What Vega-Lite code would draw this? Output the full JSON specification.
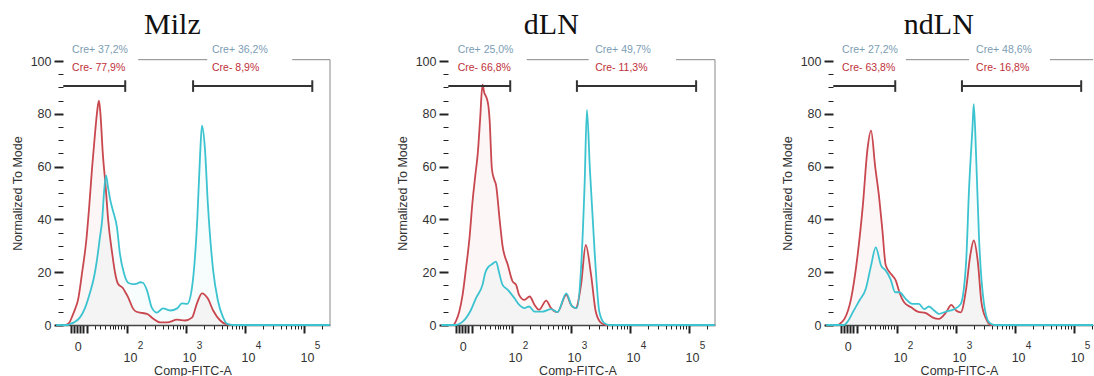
{
  "$schema": "https://vega.github.io/schema/vega-lite/v6.json",
  "background": "white",
  "padding": {"left": 11, "top": 10, "right": 0, "bottom": 0},
  "config": {
    "view": {"stroke": null},
    "axis": {"grid": false, "labelFont": "Liberation Sans", "titleFont": "Liberation Sans", "labelColor": "#333", "titleColor": "#333", "tickColor": "#222", "titleFontWeight": "normal", "labelFontSize": 12.5, "titleFontSize": 12.5}
  },
  "datasets": {
    "c1": [
      {"s": "red", "x": 0.8, "y": 0}, {"s": "red", "x": 0.95, "y": 0}, {"s": "red", "x": 1.02, "y": 0.8}, {"s": "red", "x": 1.07, "y": 3.2}, {"s": "red", "x": 1.12, "y": 6}, {"s": "red", "x": 1.17, "y": 9.5}, {"s": "red", "x": 1.24, "y": 20}, {"s": "red", "x": 1.31, "y": 32}, {"s": "red", "x": 1.36, "y": 45}, {"s": "red", "x": 1.41, "y": 60}, {"s": "red", "x": 1.46, "y": 73}, {"s": "red", "x": 1.5, "y": 82}, {"s": "red", "x": 1.525, "y": 85}, {"s": "red", "x": 1.55, "y": 80}, {"s": "red", "x": 1.59, "y": 65}, {"s": "red", "x": 1.64, "y": 52}, {"s": "red", "x": 1.68, "y": 40}, {"s": "red", "x": 1.75, "y": 27}, {"s": "red", "x": 1.8, "y": 19.5}, {"s": "red", "x": 1.85, "y": 15.5}, {"s": "red", "x": 1.93, "y": 14}, {"s": "red", "x": 1.97, "y": 12.5}, {"s": "red", "x": 2.02, "y": 10.5}, {"s": "red", "x": 2.1, "y": 6.3}, {"s": "red", "x": 2.16, "y": 5}, {"s": "red", "x": 2.22, "y": 4.7}, {"s": "red", "x": 2.34, "y": 4.2}, {"s": "red", "x": 2.44, "y": 2.5}, {"s": "red", "x": 2.56, "y": 1}, {"s": "red", "x": 2.68, "y": 1}, {"s": "red", "x": 2.85, "y": 2}, {"s": "red", "x": 2.98, "y": 1.7}, {"s": "red", "x": 3.1, "y": 2.8}, {"s": "red", "x": 3.19, "y": 8.5}, {"s": "red", "x": 3.27, "y": 12}, {"s": "red", "x": 3.37, "y": 10}, {"s": "red", "x": 3.46, "y": 5.5}, {"s": "red", "x": 3.58, "y": 1.7}, {"s": "red", "x": 3.69, "y": 0.2}, {"s": "red", "x": 3.83, "y": 0}, {"s": "red", "x": 5.44, "y": 0},
      {"s": "cyan", "x": 0.8, "y": 0}, {"s": "cyan", "x": 1.0, "y": 0}, {"s": "cyan", "x": 1.03, "y": 0.3}, {"s": "cyan", "x": 1.1, "y": 1}, {"s": "cyan", "x": 1.2, "y": 2.8}, {"s": "cyan", "x": 1.29, "y": 6.5}, {"s": "cyan", "x": 1.37, "y": 12}, {"s": "cyan", "x": 1.44, "y": 18}, {"s": "cyan", "x": 1.49, "y": 24.5}, {"s": "cyan", "x": 1.54, "y": 33}, {"s": "cyan", "x": 1.58, "y": 40}, {"s": "cyan", "x": 1.61, "y": 50}, {"s": "cyan", "x": 1.644, "y": 56.7}, {"s": "cyan", "x": 1.68, "y": 52}, {"s": "cyan", "x": 1.72, "y": 47}, {"s": "cyan", "x": 1.76, "y": 43.5}, {"s": "cyan", "x": 1.83, "y": 37}, {"s": "cyan", "x": 1.88, "y": 27}, {"s": "cyan", "x": 1.95, "y": 19.5}, {"s": "cyan", "x": 2.02, "y": 16}, {"s": "cyan", "x": 2.1, "y": 15.5}, {"s": "cyan", "x": 2.17, "y": 15.7}, {"s": "cyan", "x": 2.22, "y": 16.2}, {"s": "cyan", "x": 2.27, "y": 16}, {"s": "cyan", "x": 2.34, "y": 13}, {"s": "cyan", "x": 2.42, "y": 6.6}, {"s": "cyan", "x": 2.51, "y": 4.7}, {"s": "cyan", "x": 2.61, "y": 6.3}, {"s": "cyan", "x": 2.73, "y": 5.5}, {"s": "cyan", "x": 2.85, "y": 6.3}, {"s": "cyan", "x": 2.93, "y": 8.2}, {"s": "cyan", "x": 3.02, "y": 8}, {"s": "cyan", "x": 3.1, "y": 14}, {"s": "cyan", "x": 3.19, "y": 39.6}, {"s": "cyan", "x": 3.24, "y": 65}, {"s": "cyan", "x": 3.27, "y": 75.5}, {"s": "cyan", "x": 3.32, "y": 67}, {"s": "cyan", "x": 3.37, "y": 46}, {"s": "cyan", "x": 3.46, "y": 20.7}, {"s": "cyan", "x": 3.54, "y": 9.3}, {"s": "cyan", "x": 3.63, "y": 2.8}, {"s": "cyan", "x": 3.69, "y": 0.5}, {"s": "cyan", "x": 3.8, "y": 0}, {"s": "cyan", "x": 5.44, "y": 0}
    ],
    "c2": [
      {"s": "red", "x": 0.8, "y": 0}, {"s": "red", "x": 1.0, "y": 0}, {"s": "red", "x": 1.05, "y": 1.5}, {"s": "red", "x": 1.107, "y": 5.1}, {"s": "red", "x": 1.16, "y": 11}, {"s": "red", "x": 1.22, "y": 21.4}, {"s": "red", "x": 1.28, "y": 33}, {"s": "red", "x": 1.33, "y": 46.5}, {"s": "red", "x": 1.38, "y": 57}, {"s": "red", "x": 1.42, "y": 65}, {"s": "red", "x": 1.46, "y": 78}, {"s": "red", "x": 1.5, "y": 91}, {"s": "red", "x": 1.53, "y": 88}, {"s": "red", "x": 1.57, "y": 86}, {"s": "red", "x": 1.6, "y": 83}, {"s": "red", "x": 1.62, "y": 78}, {"s": "red", "x": 1.66, "y": 59}, {"s": "red", "x": 1.7, "y": 55}, {"s": "red", "x": 1.73, "y": 53}, {"s": "red", "x": 1.79, "y": 40}, {"s": "red", "x": 1.84, "y": 30}, {"s": "red", "x": 1.93, "y": 22.7}, {"s": "red", "x": 2.01, "y": 16.5}, {"s": "red", "x": 2.07, "y": 15.2}, {"s": "red", "x": 2.12, "y": 11.4}, {"s": "red", "x": 2.21, "y": 9.5}, {"s": "red", "x": 2.3, "y": 10.8}, {"s": "red", "x": 2.38, "y": 7.7}, {"s": "red", "x": 2.46, "y": 5.8}, {"s": "red", "x": 2.58, "y": 9.2}, {"s": "red", "x": 2.66, "y": 6.4}, {"s": "red", "x": 2.77, "y": 4.9}, {"s": "red", "x": 2.92, "y": 11.4}, {"s": "red", "x": 3.0, "y": 7.7}, {"s": "red", "x": 3.08, "y": 6.4}, {"s": "red", "x": 3.17, "y": 15.2}, {"s": "red", "x": 3.25, "y": 30.3}, {"s": "red", "x": 3.34, "y": 19}, {"s": "red", "x": 3.42, "y": 5}, {"s": "red", "x": 3.51, "y": 0.8}, {"s": "red", "x": 3.6, "y": 0}, {"s": "red", "x": 5.44, "y": 0},
      {"s": "cyan", "x": 0.8, "y": 0}, {"s": "cyan", "x": 1.05, "y": 0}, {"s": "cyan", "x": 1.15, "y": 1}, {"s": "cyan", "x": 1.22, "y": 2.6}, {"s": "cyan", "x": 1.3, "y": 5.5}, {"s": "cyan", "x": 1.39, "y": 10.2}, {"s": "cyan", "x": 1.5, "y": 15.2}, {"s": "cyan", "x": 1.55, "y": 20}, {"s": "cyan", "x": 1.6, "y": 22}, {"s": "cyan", "x": 1.66, "y": 23}, {"s": "cyan", "x": 1.73, "y": 24}, {"s": "cyan", "x": 1.78, "y": 20}, {"s": "cyan", "x": 1.84, "y": 15.2}, {"s": "cyan", "x": 1.93, "y": 13.3}, {"s": "cyan", "x": 2.04, "y": 10.2}, {"s": "cyan", "x": 2.12, "y": 7.7}, {"s": "cyan", "x": 2.21, "y": 6.4}, {"s": "cyan", "x": 2.29, "y": 7}, {"s": "cyan", "x": 2.38, "y": 5.1}, {"s": "cyan", "x": 2.52, "y": 5.1}, {"s": "cyan", "x": 2.66, "y": 6}, {"s": "cyan", "x": 2.77, "y": 4.9}, {"s": "cyan", "x": 2.92, "y": 12}, {"s": "cyan", "x": 3.02, "y": 7}, {"s": "cyan", "x": 3.1, "y": 6.4}, {"s": "cyan", "x": 3.17, "y": 21.5}, {"s": "cyan", "x": 3.23, "y": 53}, {"s": "cyan", "x": 3.27, "y": 81.5}, {"s": "cyan", "x": 3.32, "y": 59}, {"s": "cyan", "x": 3.4, "y": 27.8}, {"s": "cyan", "x": 3.48, "y": 5}, {"s": "cyan", "x": 3.56, "y": 0.8}, {"s": "cyan", "x": 3.65, "y": 0}, {"s": "cyan", "x": 5.44, "y": 0}
    ],
    "c3": [
      {"s": "red", "x": 0.8, "y": 0}, {"s": "red", "x": 1.0, "y": 0}, {"s": "red", "x": 1.05, "y": 0.8}, {"s": "red", "x": 1.11, "y": 2.3}, {"s": "red", "x": 1.22, "y": 9.8}, {"s": "red", "x": 1.33, "y": 26}, {"s": "red", "x": 1.42, "y": 45}, {"s": "red", "x": 1.5, "y": 66.7}, {"s": "red", "x": 1.56, "y": 73.6}, {"s": "red", "x": 1.63, "y": 60}, {"s": "red", "x": 1.7, "y": 47.7}, {"s": "red", "x": 1.75, "y": 36.4}, {"s": "red", "x": 1.81, "y": 22.5}, {"s": "red", "x": 1.9, "y": 19.3}, {"s": "red", "x": 1.98, "y": 16.8}, {"s": "red", "x": 2.04, "y": 12.4}, {"s": "red", "x": 2.12, "y": 8.6}, {"s": "red", "x": 2.24, "y": 6.7}, {"s": "red", "x": 2.35, "y": 5.1}, {"s": "red", "x": 2.49, "y": 4.5}, {"s": "red", "x": 2.6, "y": 2.9}, {"s": "red", "x": 2.71, "y": 2.3}, {"s": "red", "x": 2.83, "y": 4.8}, {"s": "red", "x": 2.92, "y": 7.6}, {"s": "red", "x": 3.0, "y": 5.5}, {"s": "red", "x": 3.08, "y": 4.8}, {"s": "red", "x": 3.17, "y": 13.6}, {"s": "red", "x": 3.24, "y": 26.3}, {"s": "red", "x": 3.3, "y": 32}, {"s": "red", "x": 3.37, "y": 23.7}, {"s": "red", "x": 3.43, "y": 8.6}, {"s": "red", "x": 3.51, "y": 2.3}, {"s": "red", "x": 3.59, "y": 0}, {"s": "red", "x": 5.32, "y": 0},
      {"s": "cyan", "x": 0.8, "y": 0}, {"s": "cyan", "x": 1.1, "y": 0}, {"s": "cyan", "x": 1.17, "y": 1.5}, {"s": "cyan", "x": 1.25, "y": 4.8}, {"s": "cyan", "x": 1.36, "y": 9.2}, {"s": "cyan", "x": 1.47, "y": 13.6}, {"s": "cyan", "x": 1.56, "y": 22.5}, {"s": "cyan", "x": 1.64, "y": 29.4}, {"s": "cyan", "x": 1.73, "y": 22.5}, {"s": "cyan", "x": 1.81, "y": 20.6}, {"s": "cyan", "x": 1.89, "y": 17.4}, {"s": "cyan", "x": 1.97, "y": 12.4}, {"s": "cyan", "x": 2.04, "y": 12.4}, {"s": "cyan", "x": 2.15, "y": 9.8}, {"s": "cyan", "x": 2.26, "y": 8}, {"s": "cyan", "x": 2.37, "y": 8}, {"s": "cyan", "x": 2.46, "y": 6}, {"s": "cyan", "x": 2.54, "y": 7}, {"s": "cyan", "x": 2.63, "y": 5.5}, {"s": "cyan", "x": 2.71, "y": 4.2}, {"s": "cyan", "x": 2.83, "y": 5.1}, {"s": "cyan", "x": 2.97, "y": 6}, {"s": "cyan", "x": 3.08, "y": 8}, {"s": "cyan", "x": 3.17, "y": 23.7}, {"s": "cyan", "x": 3.22, "y": 51.5}, {"s": "cyan", "x": 3.28, "y": 75.5}, {"s": "cyan", "x": 3.3, "y": 83.7}, {"s": "cyan", "x": 3.34, "y": 64}, {"s": "cyan", "x": 3.39, "y": 32.6}, {"s": "cyan", "x": 3.47, "y": 8.6}, {"s": "cyan", "x": 3.56, "y": 1}, {"s": "cyan", "x": 3.65, "y": 0}, {"s": "cyan", "x": 5.32, "y": 0}
    ],
    "g1": [{"x": 0.92, "x2": 1.97}, {"x": 3.12, "x2": 5.14}],
    "k1": [{"x": 1.97}, {"x": 3.12}, {"x": 5.14}],
    "t1": [{"x": 1.07, "y": 104, "s": "pos", "t": "Cre+ 37,2%"}, {"x": 1.07, "y": 97.3, "s": "neg", "t": "Cre- 77,9%"}, {"x": 3.44, "y": 104, "s": "pos", "t": "Cre+ 36,2%"}, {"x": 3.44, "y": 97.3, "s": "neg", "t": "Cre- 8,9%"}],
    "f1": [{"x": 2.19, "x2": 3.36}, {"x": 4.8, "x2": 5.44}],
    "g2": [{"x": 0.92, "x2": 1.97}, {"x": 3.1, "x2": 5.12}],
    "k2": [{"x": 1.97}, {"x": 3.1}, {"x": 5.12}],
    "t2": [{"x": 1.08, "y": 104, "s": "pos", "t": "Cre+ 25,0%"}, {"x": 1.08, "y": 97.3, "s": "neg", "t": "Cre- 66,8%"}, {"x": 3.41, "y": 104, "s": "pos", "t": "Cre+ 49,7%"}, {"x": 3.41, "y": 97.3, "s": "neg", "t": "Cre- 11,3%"}],
    "f2": [{"x": 2.25, "x2": 3.3}, {"x": 4.78, "x2": 5.44}],
    "g3": [{"x": 0.92, "x2": 1.97}, {"x": 3.1, "x2": 5.12}],
    "k3": [{"x": 1.97}, {"x": 3.1}, {"x": 5.12}],
    "t3": [{"x": 1.07, "y": 104, "s": "pos", "t": "Cre+ 27,2%"}, {"x": 1.07, "y": 97.3, "s": "neg", "t": "Cre- 63,8%"}, {"x": 3.34, "y": 104, "s": "pos", "t": "Cre+ 48,6%"}, {"x": 3.34, "y": 97.3, "s": "neg", "t": "Cre- 16,8%"}],
    "f3": [{"x": 2.15, "x2": 3.22}, {"x": 4.59, "x2": 5.32}],
    "e": [{"x": 1.2}, {"x": 2}, {"x": 3}, {"x": 4}, {"x": 5}]
  },
  "hconcat": [
    {
      "width": 275, "height": 264,
      "title": {"text": "Milz", "font": "Liberation Serif", "fontSize": 30, "fontWeight": "normal", "color": "#111", "frame": "bounds", "anchor": "middle", "offset": 5},
      "resolve": {"axis": {"x": "independent"}},
      "layer": [
        {
          "layer": [
            {"data": {"name": "c1"}, "transform": [{"filter": "datum.s == 'red'"}], "mark": {"type": "area", "color": "#c9474f", "opacity": 0.05},
             "encoding": {
               "x": {"field": "x", "type": "quantitative", "scale": {"domain": [0.78, 5.44], "nice": false, "zero": false},
                 "axis": {"title": "Comp-FITC-A", "titlePadding": 1, "tickCount": 500, "values": [1.05, 1.1, 1.15, 1.2, 1.25, 1.32, 1.45, 1.54, 1.62, 1.71, 1.76, 1.8, 1.845, 1.9, 1.955, 2, 2.301, 2.477, 2.602, 2.699, 2.778, 2.845, 2.903, 2.954, 3, 3.301, 3.477, 3.602, 3.699, 3.778, 3.845, 3.903, 3.954, 4, 4.301, 4.477, 4.602, 4.699, 4.778, 4.845, 4.903, 4.954, 5, 5.301],
                   "labelExpr": "(datum.value == 2 || datum.value == 3 || datum.value == 4 || datum.value == 5) ? '10' : ''", "labelOffset": 3, "labelPadding": 18, "labelOverlap": false, "labelFlush": false, "labelBound": false,
                   "tickSize": {"condition": {"test": "datum.value < 1.35 || datum.value % 1 == 0", "value": 8}, "value": 4},
                   "tickWidth": {"condition": {"test": "datum.value < 1.35 || datum.value % 1 == 0", "value": 2}, "value": 1},
                   "domainColor": "#444", "domainWidth": 1.5}},
               "y": {"field": "y", "type": "quantitative", "scale": {"domain": [0, 100], "nice": false},
                 "axis": {"title": "Normalized To Mode", "tickCount": 500, "format": "d", "values": [0, 5, 10, 15, 20, 25, 30, 35, 40, 45, 50, 55, 60, 65, 70, 75, 80, 85, 90, 95, 100], "labelExpr": "datum.value % 20 == 0 ? format(datum.value, 'd') : ''", "tickSize": {"condition": {"test": "datum.value % 20 == 0", "value": 9}, "value": 5}, "tickWidth": {"condition": {"test": "datum.value % 20 == 0", "value": 2}, "value": 1}, "domain": false, "offset": -8, "labelPadding": 3, "titlePadding": 6, "labelOverlap": false}}
             }},
            {"data": {"name": "c1"}, "transform": [{"filter": "datum.s == 'cyan'"}], "mark": {"type": "area", "color": "#3cc3d0", "opacity": 0.04}, "encoding": {"x": {"field": "x", "type": "quantitative"}, "y": {"field": "y", "type": "quantitative"}}},
            {"data": {"name": "c1"}, "transform": [{"filter": "datum.s == 'red'"}], "mark": {"type": "line", "color": "#c9474f", "strokeWidth": 1.8, "interpolate": "monotone"}, "encoding": {"x": {"field": "x", "type": "quantitative"}, "y": {"field": "y", "type": "quantitative"}}},
            {"data": {"name": "c1"}, "transform": [{"filter": "datum.s == 'cyan'"}], "mark": {"type": "line", "color": "#3cc3d0", "strokeWidth": 1.8, "interpolate": "monotone"}, "encoding": {"x": {"field": "x", "type": "quantitative"}, "y": {"field": "y", "type": "quantitative"}}},
            {"data": {"name": "f1"}, "mark": {"type": "rule", "color": "#888", "strokeWidth": 1}, "encoding": {"x": {"field": "x", "type": "quantitative"}, "x2": {"field": "x2"}, "y": {"datum": 100.5}}},
            {"data": {"name": "f1"}, "transform": [{"filter": "datum.x2 > 5.4"}], "mark": {"type": "rule", "color": "#888", "strokeWidth": 1}, "encoding": {"x": {"field": "x2", "type": "quantitative"}, "y": {"datum": 0}, "y2": {"datum": 100.5}}},
            {"data": {"name": "g1"}, "mark": {"type": "rule", "color": "#333", "strokeWidth": 2}, "encoding": {"x": {"field": "x", "type": "quantitative"}, "x2": {"field": "x2"}, "y": {"datum": 90.5}}},
            {"data": {"name": "k1"}, "mark": {"type": "rule", "color": "#333", "strokeWidth": 2}, "encoding": {"x": {"field": "x", "type": "quantitative"}, "y": {"datum": 88.3}, "y2": {"datum": 92.7}}},
            {"data": {"name": "t1"}, "mark": {"type": "text", "align": "left", "baseline": "middle", "font": "Liberation Sans", "fontSize": 10.5}, "encoding": {"x": {"field": "x", "type": "quantitative"}, "y": {"field": "y", "type": "quantitative"}, "text": {"field": "t"}, "color": {"field": "s", "type": "nominal", "scale": {"domain": ["pos", "neg"], "range": ["#7b9db3", "#c0303a"]}, "legend": null}, "fontWeight": {"field": "s", "type": "nominal", "scale": {"domain": ["pos", "neg"], "range": [400, 700]}, "legend": null}}}
          ]
        },
        {"data": {"name": "e"}, "mark": {"type": "point", "opacity": 0}, "encoding": {"x": {"field": "x", "type": "quantitative", "scale": {"domain": [0.78, 5.44], "nice": false, "zero": false},
          "axis": {"orient": "bottom", "title": null, "tickCount": 500, "values": [1.2, 2, 3, 4, 5], "labelExpr": "datum.value < 1.5 ? '0' : format(datum.value, 'd')", "ticks": false, "domain": false, "labelPadding": 15, "labelOverlap": false, "labelFlush": false, "labelBound": false,
            "labelOffset": {"condition": {"test": "datum.value > 1.5", "value": 13}, "value": -2}, "labelFontSize": {"condition": {"test": "datum.value > 1.5", "value": 10}, "value": 12.5}}}}}
      ]
    },
    {
      "width": 275, "height": 264,
      "title": {"text": "dLN", "font": "Liberation Serif", "fontSize": 30, "fontWeight": "normal", "color": "#111", "frame": "bounds", "anchor": "middle", "offset": 5, "dx": -6},
      "resolve": {"axis": {"x": "independent"}},
      "layer": [
        {
          "layer": [
            {"data": {"name": "c2"}, "transform": [{"filter": "datum.s == 'red'"}], "mark": {"type": "area", "color": "#c9474f", "opacity": 0.05},
             "encoding": {
               "x": {"field": "x", "type": "quantitative", "scale": {"domain": [0.78, 5.44], "nice": false, "zero": false},
                 "axis": {"title": "Comp-FITC-A", "titlePadding": 1, "tickCount": 500, "values": [1.05, 1.1, 1.15, 1.2, 1.25, 1.32, 1.45, 1.54, 1.62, 1.71, 1.76, 1.8, 1.845, 1.9, 1.955, 2, 2.301, 2.477, 2.602, 2.699, 2.778, 2.845, 2.903, 2.954, 3, 3.301, 3.477, 3.602, 3.699, 3.778, 3.845, 3.903, 3.954, 4, 4.301, 4.477, 4.602, 4.699, 4.778, 4.845, 4.903, 4.954, 5, 5.301],
                   "labelExpr": "(datum.value == 2 || datum.value == 3 || datum.value == 4 || datum.value == 5) ? '10' : ''", "labelOffset": 3, "labelPadding": 18, "labelOverlap": false, "labelFlush": false, "labelBound": false,
                   "tickSize": {"condition": {"test": "datum.value < 1.35 || datum.value % 1 == 0", "value": 8}, "value": 4},
                   "tickWidth": {"condition": {"test": "datum.value < 1.35 || datum.value % 1 == 0", "value": 2}, "value": 1},
                   "domainColor": "#444", "domainWidth": 1.5}},
               "y": {"field": "y", "type": "quantitative", "scale": {"domain": [0, 100], "nice": false},
                 "axis": {"title": "Normalized To Mode", "tickCount": 500, "format": "d", "values": [0, 5, 10, 15, 20, 25, 30, 35, 40, 45, 50, 55, 60, 65, 70, 75, 80, 85, 90, 95, 100], "labelExpr": "datum.value % 20 == 0 ? format(datum.value, 'd') : ''", "tickSize": {"condition": {"test": "datum.value % 20 == 0", "value": 9}, "value": 5}, "tickWidth": {"condition": {"test": "datum.value % 20 == 0", "value": 2}, "value": 1}, "domain": false, "offset": -8, "labelPadding": 3, "titlePadding": 6, "labelOverlap": false}}
             }},
            {"data": {"name": "c2"}, "transform": [{"filter": "datum.s == 'cyan'"}], "mark": {"type": "area", "color": "#3cc3d0", "opacity": 0.04}, "encoding": {"x": {"field": "x", "type": "quantitative"}, "y": {"field": "y", "type": "quantitative"}}},
            {"data": {"name": "c2"}, "transform": [{"filter": "datum.s == 'red'"}], "mark": {"type": "line", "color": "#c9474f", "strokeWidth": 1.8, "interpolate": "monotone"}, "encoding": {"x": {"field": "x", "type": "quantitative"}, "y": {"field": "y", "type": "quantitative"}}},
            {"data": {"name": "c2"}, "transform": [{"filter": "datum.s == 'cyan'"}], "mark": {"type": "line", "color": "#3cc3d0", "strokeWidth": 1.8, "interpolate": "monotone"}, "encoding": {"x": {"field": "x", "type": "quantitative"}, "y": {"field": "y", "type": "quantitative"}}},
            {"data": {"name": "f2"}, "mark": {"type": "rule", "color": "#888", "strokeWidth": 1}, "encoding": {"x": {"field": "x", "type": "quantitative"}, "x2": {"field": "x2"}, "y": {"datum": 100.5}}},
            {"data": {"name": "f2"}, "transform": [{"filter": "datum.x2 > 5.4"}], "mark": {"type": "rule", "color": "#888", "strokeWidth": 1}, "encoding": {"x": {"field": "x2", "type": "quantitative"}, "y": {"datum": 0}, "y2": {"datum": 100.5}}},
            {"data": {"name": "g2"}, "mark": {"type": "rule", "color": "#333", "strokeWidth": 2}, "encoding": {"x": {"field": "x", "type": "quantitative"}, "x2": {"field": "x2"}, "y": {"datum": 90.5}}},
            {"data": {"name": "k2"}, "mark": {"type": "rule", "color": "#333", "strokeWidth": 2}, "encoding": {"x": {"field": "x", "type": "quantitative"}, "y": {"datum": 88.3}, "y2": {"datum": 92.7}}},
            {"data": {"name": "t2"}, "mark": {"type": "text", "align": "left", "baseline": "middle", "font": "Liberation Sans", "fontSize": 10.5}, "encoding": {"x": {"field": "x", "type": "quantitative"}, "y": {"field": "y", "type": "quantitative"}, "text": {"field": "t"}, "color": {"field": "s", "type": "nominal", "scale": {"domain": ["pos", "neg"], "range": ["#7b9db3", "#c0303a"]}, "legend": null}, "fontWeight": {"field": "s", "type": "nominal", "scale": {"domain": ["pos", "neg"], "range": [400, 700]}, "legend": null}}}
          ]
        },
        {"data": {"name": "e"}, "mark": {"type": "point", "opacity": 0}, "encoding": {"x": {"field": "x", "type": "quantitative", "scale": {"domain": [0.78, 5.44], "nice": false, "zero": false},
          "axis": {"orient": "bottom", "title": null, "tickCount": 500, "values": [1.2, 2, 3, 4, 5], "labelExpr": "datum.value < 1.5 ? '0' : format(datum.value, 'd')", "ticks": false, "domain": false, "labelPadding": 15, "labelOverlap": false, "labelFlush": false, "labelBound": false,
            "labelOffset": {"condition": {"test": "datum.value > 1.5", "value": 13}, "value": -2}, "labelFontSize": {"condition": {"test": "datum.value > 1.5", "value": 10}, "value": 12.5}}}}}
      ]
    },
    {
      "width": 268, "height": 264,
      "title": {"text": "ndLN", "font": "Liberation Serif", "fontSize": 30, "fontWeight": "normal", "color": "#111", "frame": "bounds", "anchor": "middle", "offset": 5},
      "resolve": {"axis": {"x": "independent"}},
      "layer": [
        {
          "layer": [
            {"data": {"name": "c3"}, "transform": [{"filter": "datum.s == 'red'"}], "mark": {"type": "area", "color": "#c9474f", "opacity": 0.05},
             "encoding": {
               "x": {"field": "x", "type": "quantitative", "scale": {"domain": [0.78, 5.32], "nice": false, "zero": false},
                 "axis": {"title": "Comp-FITC-A", "titlePadding": 1, "tickCount": 500, "values": [1.05, 1.1, 1.15, 1.2, 1.25, 1.32, 1.45, 1.54, 1.62, 1.71, 1.76, 1.8, 1.845, 1.9, 1.955, 2, 2.301, 2.477, 2.602, 2.699, 2.778, 2.845, 2.903, 2.954, 3, 3.301, 3.477, 3.602, 3.699, 3.778, 3.845, 3.903, 3.954, 4, 4.301, 4.477, 4.602, 4.699, 4.778, 4.845, 4.903, 4.954, 5, 5.301],
                   "labelExpr": "(datum.value == 2 || datum.value == 3 || datum.value == 4 || datum.value == 5) ? '10' : ''", "labelOffset": 3, "labelPadding": 18, "labelOverlap": false, "labelFlush": false, "labelBound": false,
                   "tickSize": {"condition": {"test": "datum.value < 1.35 || datum.value % 1 == 0", "value": 8}, "value": 4},
                   "tickWidth": {"condition": {"test": "datum.value < 1.35 || datum.value % 1 == 0", "value": 2}, "value": 1},
                   "domainColor": "#444", "domainWidth": 1.5}},
               "y": {"field": "y", "type": "quantitative", "scale": {"domain": [0, 100], "nice": false},
                 "axis": {"title": "Normalized To Mode", "tickCount": 500, "format": "d", "values": [0, 5, 10, 15, 20, 25, 30, 35, 40, 45, 50, 55, 60, 65, 70, 75, 80, 85, 90, 95, 100], "labelExpr": "datum.value % 20 == 0 ? format(datum.value, 'd') : ''", "tickSize": {"condition": {"test": "datum.value % 20 == 0", "value": 9}, "value": 5}, "tickWidth": {"condition": {"test": "datum.value % 20 == 0", "value": 2}, "value": 1}, "domain": false, "offset": -8, "labelPadding": 3, "titlePadding": 6, "labelOverlap": false}}
             }},
            {"data": {"name": "c3"}, "transform": [{"filter": "datum.s == 'cyan'"}], "mark": {"type": "area", "color": "#3cc3d0", "opacity": 0.04}, "encoding": {"x": {"field": "x", "type": "quantitative"}, "y": {"field": "y", "type": "quantitative"}}},
            {"data": {"name": "c3"}, "transform": [{"filter": "datum.s == 'red'"}], "mark": {"type": "line", "color": "#c9474f", "strokeWidth": 1.8, "interpolate": "monotone"}, "encoding": {"x": {"field": "x", "type": "quantitative"}, "y": {"field": "y", "type": "quantitative"}}},
            {"data": {"name": "c3"}, "transform": [{"filter": "datum.s == 'cyan'"}], "mark": {"type": "line", "color": "#3cc3d0", "strokeWidth": 1.8, "interpolate": "monotone"}, "encoding": {"x": {"field": "x", "type": "quantitative"}, "y": {"field": "y", "type": "quantitative"}}},
            {"data": {"name": "f3"}, "mark": {"type": "rule", "color": "#888", "strokeWidth": 1}, "encoding": {"x": {"field": "x", "type": "quantitative"}, "x2": {"field": "x2"}, "y": {"datum": 100.5}}},
            {"data": {"name": "g3"}, "mark": {"type": "rule", "color": "#333", "strokeWidth": 2}, "encoding": {"x": {"field": "x", "type": "quantitative"}, "x2": {"field": "x2"}, "y": {"datum": 90.5}}},
            {"data": {"name": "k3"}, "mark": {"type": "rule", "color": "#333", "strokeWidth": 2}, "encoding": {"x": {"field": "x", "type": "quantitative"}, "y": {"datum": 88.3}, "y2": {"datum": 92.7}}},
            {"data": {"name": "t3"}, "mark": {"type": "text", "align": "left", "baseline": "middle", "font": "Liberation Sans", "fontSize": 10.5}, "encoding": {"x": {"field": "x", "type": "quantitative"}, "y": {"field": "y", "type": "quantitative"}, "text": {"field": "t"}, "color": {"field": "s", "type": "nominal", "scale": {"domain": ["pos", "neg"], "range": ["#7b9db3", "#c0303a"]}, "legend": null}, "fontWeight": {"field": "s", "type": "nominal", "scale": {"domain": ["pos", "neg"], "range": [400, 700]}, "legend": null}}}
          ]
        },
        {"data": {"name": "e"}, "mark": {"type": "point", "opacity": 0}, "encoding": {"x": {"field": "x", "type": "quantitative", "scale": {"domain": [0.78, 5.32], "nice": false, "zero": false},
          "axis": {"orient": "bottom", "title": null, "tickCount": 500, "values": [1.2, 2, 3, 4, 5], "labelExpr": "datum.value < 1.5 ? '0' : format(datum.value, 'd')", "ticks": false, "domain": false, "labelPadding": 15, "labelOverlap": false, "labelFlush": false, "labelBound": false,
            "labelOffset": {"condition": {"test": "datum.value > 1.5", "value": 13}, "value": -2}, "labelFontSize": {"condition": {"test": "datum.value > 1.5", "value": 10}, "value": 12.5}}}}}
      ]
    }
  ],
  "spacing": 110,
  "bounds": "flush"
}
